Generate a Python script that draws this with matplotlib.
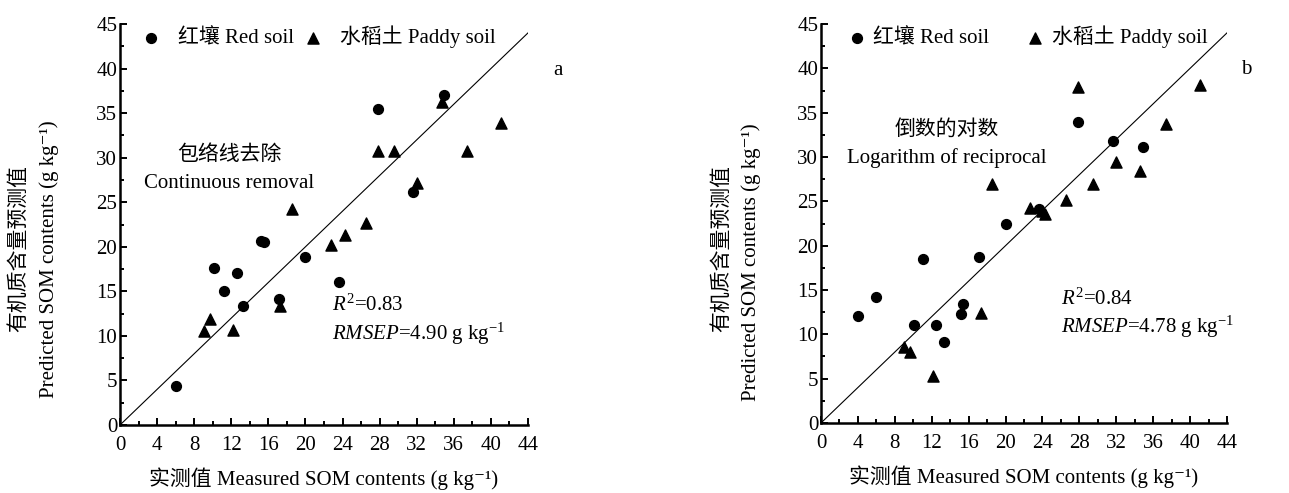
import numpy as np
import matplotlib
matplotlib.use("Agg")
import matplotlib.pyplot as plt
from matplotlib.ticker import MultipleLocator

plt.rcParams['font.family'] = ['Liberation Serif', 'Noto Sans CJK SC', 'DejaVu Serif']
plt.rcParams['mathtext.fontset'] = 'custom'
plt.rcParams['mathtext.rm'] = 'Liberation Serif'
plt.rcParams['mathtext.it'] = 'Liberation Serif:italic'

# ---------- data ----------
# panel a: continuum removal
red_x_a = [6.0, 10.1, 11.2, 12.6, 13.3, 15.2, 15.5, 17.1, 20.0, 23.6, 27.8, 31.6, 34.9]
red_y_a = [4.4, 17.6, 15.0, 17.1, 13.4, 20.7, 20.5, 14.1, 18.8, 16.1, 35.5, 26.2, 37.0]
pad_x_a = [9.1, 9.7, 12.2, 17.3, 18.5, 22.8, 24.3, 26.5, 27.8, 29.6, 32.0, 34.7, 37.4, 41.1]
pad_y_a = [10.5, 11.9, 10.7, 13.4, 24.2, 20.2, 21.3, 22.7, 30.7, 30.7, 27.2, 36.3, 30.8, 33.9]

# panel b: log(1/R)
red_x_b = [4.0, 6.0, 10.1, 11.1, 12.5, 13.3, 15.2, 15.4, 17.1, 20.0, 23.6, 27.8, 31.6, 34.9]
red_y_b = [12.1, 14.2, 11.0, 18.5, 11.0, 9.1, 12.3, 13.4, 18.7, 22.5, 24.1, 34.0, 31.8, 31.1]
pad_x_b = [9.0, 9.7, 12.1, 17.3, 18.5, 22.7, 24.0, 24.3, 26.5, 27.8, 29.5, 32.0, 34.6, 37.4, 41.1]
pad_y_b = [8.6, 8.0, 5.3, 12.4, 26.9, 24.3, 23.9, 23.6, 25.2, 37.9, 26.9, 29.4, 28.4, 33.7, 38.1]

FS = 15
XLABEL = '实测值 Measured SOM contents (g kg⁻¹)'
YLABEL_CN = '有机质含量预测值'
YLABEL_EN = 'Predicted SOM contents (g kg⁻¹)'


def draw_panel(ax, rx, ry, px, py, title_cn, title_en, tpos, r2, rmsep, spos, tag, tagx, leg):
    ax.plot([0, 44], [0, 44], color='black', lw=0.8, zorder=1)
    ax.scatter(rx, ry, marker='o', s=50, color='black', zorder=3, label='红壤 Red soil')
    ax.scatter(px, py, marker='^', s=64, color='black', zorder=3, label='水稻土 Paddy soil')
    ax.set_xlim(0, 44)
    ax.set_ylim(0, 45)
    ax.xaxis.set_major_locator(MultipleLocator(4))
    ax.xaxis.set_minor_locator(MultipleLocator(2))
    ax.yaxis.set_major_locator(MultipleLocator(5))
    ax.yaxis.set_minor_locator(MultipleLocator(2.5))
    ax.tick_params(which='both', direction='in', labelsize=FS, width=1.4)
    ax.tick_params(which='major', length=5)
    ax.tick_params(which='minor', length=3)
    ax.tick_params(axis='x', pad=8)
    ax.tick_params(axis='y', pad=2)
    for s in ('top', 'right'):
        ax.spines[s].set_visible(False)
    for s in ('left', 'bottom'):
        ax.spines[s].set_linewidth(1.8)
    ax.legend(loc='center left', bbox_to_anchor=(leg[0], 0.968), ncol=2, frameon=False,
              fontsize=FS, handlelength=1.0, handletextpad=leg[1], columnspacing=leg[2],
              borderaxespad=0)
    ax.text(tpos[0], tpos[1], title_cn, ha='center', va='center', fontsize=FS)
    ax.text(tpos[0], tpos[1] - 3.25, title_en, ha='center', va='center', fontsize=FS)
    ax.text(spos[0], spos[1], '$R^2$=' + r2, ha='left', va='center', fontsize=FS)
    ax.text(spos[0], spos[1] - 3.2, '$RMSEP$=' + rmsep + ' g kg$^{-1}$', ha='left',
            va='center', fontsize=FS)
    ax.text(tagx, 0.885, tag, transform=ax.transAxes, ha='center', va='center', fontsize=FS)
    ax.set_xlabel(XLABEL, fontsize=FS, labelpad=9)


fig = plt.figure(figsize=(12.89, 4.93), dpi=100)
ax1 = fig.add_axes([0.0931, 0.1379, 0.3165, 0.8134])
ax2 = fig.add_axes([0.6369, 0.1420, 0.3150, 0.8093])

draw_panel(ax1, red_x_a, red_y_a, pad_x_a, pad_y_a, '包络线去除', 'Continuous removal',
           (11.8, 30.3), '0.83', '4.90', (22.9, 13.4), 'a', 1.073, (0.03, 0.78, 0.45))
draw_panel(ax2, red_x_b, red_y_b, pad_x_b, pad_y_b, '倒数的对数', 'Logarithm of reciprocal',
           (13.6, 33.1), '0.84', '4.78', (26.0, 14.0), 'b', 1.047, (0.043, 0.27, 1.72))

# two-line y labels
fig.text(19 / 1289, 1 - 248 / 493, YLABEL_CN, rotation=90, ha='center', va='center',
         fontsize=FS)
fig.text(49 / 1289, 1 - 259 / 493, YLABEL_EN, rotation=90, ha='center', va='center',
         fontsize=FS)
fig.text(722 / 1289, 1 - 249 / 493, YLABEL_CN, rotation=90, ha='center', va='center',
         fontsize=FS)
fig.text(751 / 1289, 1 - 262 / 493, YLABEL_EN, rotation=90, ha='center', va='center',
         fontsize=FS)

fig.savefig('out.png', dpi=100)
